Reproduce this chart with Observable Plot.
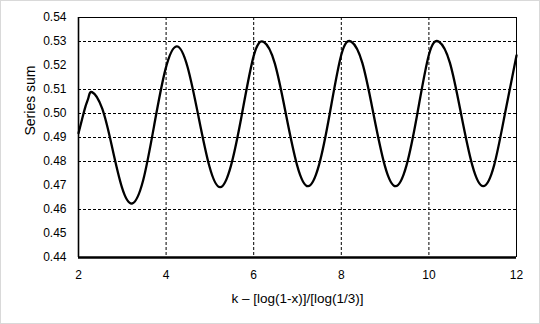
<!DOCTYPE html>
<html>
<head>
<meta charset="utf-8">
<script src="https://cdn.jsdelivr.net/npm/d3@7"></script>
<script src="https://cdn.jsdelivr.net/npm/@observablehq/plot@0.6"></script>
<style>
  html, body { margin: 0; padding: 0; background: #fff; }
  #chart svg { display: block; outline: 1px solid #d9d9d9; outline-offset: -1px; }
</style>
</head>
<body>
<div id="chart"></div>
<script>
// x values: k – [log(1-x)]/[log(1/3)]
const tValues = [
  2.00, 2.08, 2.16, 2.23, 2.31, 2.54, 2.77, 2.99, 3.22,
  3.475, 3.73, 3.985, 4.24, 4.49, 4.74, 4.99, 5.235,
  5.48, 5.73, 6.00, 6.23, 6.48, 6.735, 6.99, 7.24,
  7.49, 7.735, 8.00, 8.23, 8.48, 8.735, 8.99, 9.24,
  9.49, 9.735, 10.00, 10.23, 10.48, 10.735, 10.99, 11.24,
  11.49, 11.735, 12.00
];
// Series sum values
const sumValues = [
  0.4918, 0.4975, 0.5030, 0.5068, 0.5089, 0.5021, 0.4857, 0.4693, 0.4625,
  0.4721, 0.4953, 0.5184, 0.5280, 0.5194, 0.4987, 0.4779, 0.4693,
  0.4782, 0.4996, 0.5240, 0.5298, 0.5210, 0.4998, 0.4785, 0.4697,
  0.4785, 0.4998, 0.5245, 0.5299, 0.5211, 0.4998, 0.4785, 0.4697,
  0.4785, 0.4998, 0.5245, 0.5299, 0.5211, 0.4998, 0.4785, 0.4697,
  0.4785, 0.4998, 0.5242
];
const xTicks = [2, 4, 6, 8, 10, 12];
const yTicks = [0.44, 0.45, 0.46, 0.47, 0.48, 0.49, 0.50, 0.51, 0.52, 0.53, 0.54];
const xGrid = [4, 6, 8, 10];
const yGrid = [0.46, 0.48, 0.49, 0.50, 0.51, 0.53];
const xLabel = "k – [log(1-x)]/[log(1/3)]";
const yLabel = "Series sum";

const data = tValues.map((t, i) => ({t, v: sumValues[i]}));

const chart = Plot.plot({
  width: 540,
  height: 324,
  marginLeft: 78,
  marginRight: 24,
  marginTop: 17,
  marginBottom: 67,
  style: {fontFamily: "'Liberation Sans', Arial, sans-serif", fontSize: "12px", color: "#000", background: "#fff"},
  x: {domain: [2, 12]},
  y: {domain: [0.44, 0.54]},
  marks: [
    Plot.ruleY(yGrid, {stroke: "#000", strokeWidth: 1, strokeDasharray: "3,2"}),
    Plot.ruleX(xGrid, {stroke: "#000", strokeWidth: 1, strokeDasharray: "3,2"}),
    Plot.ruleY([0.54], {stroke: "#000", strokeWidth: 1}),
    Plot.ruleX([12], {stroke: "#000", strokeWidth: 1}),
    Plot.ruleX([2], {stroke: "#000", strokeWidth: 1.6}),
    Plot.ruleY([0.44], {stroke: "#000", strokeWidth: 2.5}),
    Plot.line(data, {x: "t", y: "v", stroke: "#000", strokeWidth: 2.3, curve: "natural"}),
    Plot.axisX({ticks: xTicks, tickSize: 0, tickPadding: 13, label: null, fontSize: 12}),
    Plot.axisY({ticks: yTicks, tickSize: 0, tickPadding: 12, tickFormat: d3.format(".2f"), label: null, fontSize: 12}),
    Plot.text([xLabel], {frameAnchor: "bottom", dy: 41, lineAnchor: "middle", fontSize: 13.5, fill: "#000"}),
    Plot.text([yLabel], {frameAnchor: "left", dx: -48, dy: -2, rotate: -90, lineAnchor: "middle", fontSize: 14, fill: "#000"})
  ]
});
document.getElementById("chart").appendChild(chart);
</script>
</body>
</html>
